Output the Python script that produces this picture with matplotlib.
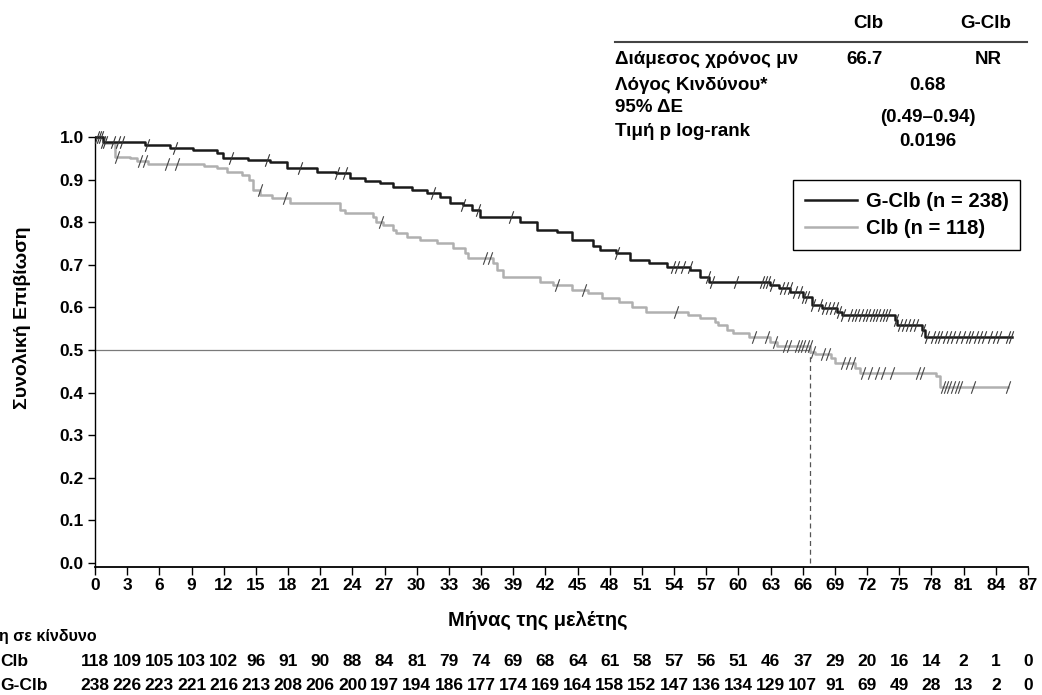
import numpy as np
import matplotlib
matplotlib.use("Agg")
import matplotlib.pyplot as plt
from matplotlib import transforms

plt.rcParams['font.family'] = ['Liberation Sans', 'DejaVu Sans']
plt.rcParams['font.weight'] = 'bold'

# ---------------- data ----------------
# G-Clb Kaplan-Meier steps (month, survival after step)
gclb_t = [0, 0.75, 4.7, 7.0, 9.1, 11.4, 11.9, 14.3, 16.3, 17.9, 20.7, 22.5, 23.8, 25.2, 26.6,
          27.8, 29.6, 31.0, 32.2, 33.1, 34.3, 35.2, 35.9, 39.6, 41.2, 43.1, 44.5, 46.4, 47.1,
          48.6, 49.9, 51.7, 53.3, 55.5, 56.4, 57.3, 62.9, 63.8, 64.8, 66.0, 66.9, 67.8, 69.2,
          69.7, 74.6, 74.8, 77.1, 77.4, 85.5]
gclb_s = [1.0, 0.988, 0.981, 0.975, 0.970, 0.962, 0.950, 0.946, 0.942, 0.927, 0.919, 0.915, 0.905,
          0.896, 0.891, 0.883, 0.876, 0.868, 0.859, 0.845, 0.840, 0.829, 0.812, 0.800, 0.781,
          0.777, 0.758, 0.744, 0.735, 0.728, 0.711, 0.704, 0.695, 0.688, 0.671, 0.660, 0.653,
          0.645, 0.636, 0.624, 0.606, 0.598, 0.589, 0.582, 0.570, 0.559, 0.547, 0.531, 0.531]
gclb_cens = [0.19, 0.37, 0.56, 0.75, 0.93, 1.68, 2.14, 2.52, 4.85, 7.46, 12.67, 16.03, 19.11,
             22.55, 23.30, 31.50, 34.30, 35.69, 38.77, 48.65, 53.87, 54.24, 54.80, 55.45, 57.13,
             57.50, 59.74, 62.16, 62.44, 62.72, 63.09, 64.03, 64.40, 64.77, 65.24, 65.70, 66.08,
             66.36, 66.92, 67.57, 67.94, 68.31, 68.69, 69.06, 69.34, 69.71, 70.36, 70.74, 71.02,
             71.39, 71.76, 72.04, 72.41, 72.69, 72.97, 73.35, 73.63, 73.91, 74.65, 75.02, 75.40,
             75.77, 76.14, 76.51, 77.17, 77.54, 78.10, 78.47, 78.84, 79.22, 79.59, 79.96, 80.43,
             80.90, 81.36, 81.73, 82.11, 82.48, 82.94, 83.41, 83.88, 84.34, 85.09, 85.46]

# Clb Kaplan-Meier steps
clb_t = [0, 0.8, 1.9, 3.3, 3.9, 4.9, 10.2, 11.4, 12.3, 13.7, 14.4, 14.7, 15.4, 16.5, 18.2, 22.8,
         23.3, 25.9, 26.2, 26.9, 27.8, 28.1, 29.1, 30.3, 31.9, 33.4, 34.5, 34.8, 37.1, 37.5,
         38.0, 41.5, 42.7, 44.5, 46.0, 47.3, 48.9, 50.1, 51.4, 55.3, 56.4, 57.8, 58.1, 58.9,
         59.5, 61.0, 62.9, 63.6, 66.7, 67.1, 68.6, 69.0, 70.9, 71.3, 78.4, 78.8, 85.1]
clb_s = [1.0, 0.986, 0.953, 0.950, 0.944, 0.937, 0.932, 0.927, 0.919, 0.911, 0.899, 0.876, 0.864,
         0.857, 0.845, 0.829, 0.822, 0.813, 0.800, 0.793, 0.782, 0.775, 0.766, 0.758, 0.751,
         0.739, 0.728, 0.716, 0.705, 0.688, 0.671, 0.660, 0.653, 0.641, 0.634, 0.622, 0.613,
         0.601, 0.589, 0.582, 0.575, 0.566, 0.559, 0.547, 0.540, 0.530, 0.519, 0.509, 0.495,
         0.490, 0.481, 0.469, 0.458, 0.446, 0.438, 0.413, 0.413]
clb_cens = [2.05, 4.19, 4.66, 6.71, 7.64, 15.38, 17.71, 26.65, 36.35, 36.81, 43.06, 45.57, 54.15,
            61.42, 62.63, 63.37, 64.31, 64.68, 65.42, 65.70, 65.98, 66.36, 66.64, 66.92, 67.85,
            68.31, 69.71, 70.18, 70.64, 71.58, 72.23, 72.88, 73.44, 74.28, 76.70, 77.07, 79.12,
            79.40, 79.68, 79.96, 80.34, 80.62, 81.83, 85.09]

median_clb = 66.7

risk_months = list(range(0, 88, 3))
risk_clb = [118, 109, 105, 103, 102, 96, 91, 90, 88, 84, 81, 79, 74, 69, 68, 64, 61, 58, 57, 56,
            51, 46, 37, 29, 20, 16, 14, 2, 1, 0]
risk_gclb = [238, 226, 223, 221, 216, 213, 208, 206, 200, 197, 194, 186, 177, 174, 169, 164, 158,
             152, 147, 136, 134, 129, 107, 91, 69, 49, 28, 13, 2, 0]

ytick_vals = [0.0, 0.1, 0.2, 0.3, 0.4, 0.5, 0.6, 0.7, 0.8, 0.9, 1.0]

# ---------------- figure ----------------
W, H = 1042, 695
fig = plt.figure(figsize=(W / 100, H / 100), dpi=100)

def fx(px):
    return px / W

def fy(py):
    return 1 - py / H

ax = fig.add_axes([fx(95), fy(567.3), fx(1028) - fx(95), fy(134.9) - fy(567.3)])
ax.set_xlim(0, 87)
ax.set_ylim(-0.01, 1.005)

BLACK = '#1a1a1a'
GRAY = '#b0b0b0'

def surv_at(ts, ss, x):
    idx = np.searchsorted(np.array(ts), np.array(x), side='right') - 1
    return np.array(ss)[idx]

# reference lines
ax.plot([0, median_clb], [0.5, 0.5], color='#7a7a7a', lw=0.9, zorder=1)
ax.plot([median_clb, median_clb], [0, 0.5], color='#555555', lw=0.9, ls=(0, (4, 3)), zorder=1)

l_clb, = ax.step(clb_t, clb_s, where='post', color=GRAY, lw=1.8, zorder=2,
                 label='Clb (n = 118)')
l_gclb, = ax.step(gclb_t, gclb_s, where='post', color=BLACK, lw=1.8, zorder=3,
                  label='G-Clb (n = 238)')

tick_marker = [(-0.35, -1), (0.35, 1)]
ax.plot(clb_cens, surv_at(clb_t, clb_s, clb_cens), ls='none', marker=tick_marker, ms=9,
        mfc='none', mec='#444444', mew=0.8, zorder=4, clip_on=False)
ax.plot(gclb_cens, surv_at(gclb_t, gclb_s, gclb_cens), ls='none', marker=tick_marker, ms=9,
        mfc='none', mec='#333333', mew=0.8, zorder=4, clip_on=False)

# axes styling
for s in ['top', 'right']:
    ax.spines[s].set_visible(False)
ax.spines['left'].set_linewidth(1.0)
ax.spines['bottom'].set_linewidth(1.3)
ax.spines['left'].set_bounds(-0.01, 1.0)

ax.set_xticks(risk_months)
ax.set_xticklabels([str(m) for m in risk_months], fontsize=12.5, fontweight='bold')
ax.set_yticks(ytick_vals)
ax.set_yticklabels([f'{v:.1f}' for v in ytick_vals], fontsize=12.5, fontweight='bold')
ax.tick_params(axis='x', direction='out', length=6, width=1, pad=2)
ax.tick_params(axis='y', direction='out', length=5, width=1, pad=3)

# legend
leg = ax.legend(handles=[l_gclb, l_clb], loc='upper left',
                bbox_to_anchor=(fx(793), fy(180)), bbox_transform=fig.transFigure,
                frameon=True, fancybox=False, edgecolor='black', framealpha=1,
                fontsize=14.5, handlelength=2.6, handletextpad=0.4, labelspacing=0.38,
                borderpad=0.6, borderaxespad=0)
leg.get_frame().set_linewidth(1.0)
for t in leg.get_texts():
    t.set_fontweight('bold')

# axis labels
fig.text(fx(538), fy(620), 'Μήνας της μελέτης', ha='center', va='center', fontsize=14.5,
         fontweight='bold')
fig.text(fx(22), fy(318), 'Συνολική Επιβίωση', ha='center', va='center', rotation=90,
         fontsize=14, fontweight='bold')

# summary table (top right)
fs = 13.5
fig.text(fx(868), fy(23), 'Clb', ha='center', va='center', fontsize=fs, fontweight='bold')
fig.text(fx(986), fy(23), 'G-Clb', ha='center', va='center', fontsize=fs, fontweight='bold')
fig.add_artist(plt.Line2D([fx(615), fx(1027)], [fy(42), fy(42)], color='#444444', lw=1.5))
fig.text(fx(615), fy(59), 'Διάμεσος χρόνος μν', ha='left', va='center', fontsize=fs, fontweight='bold')
fig.text(fx(865), fy(59), '66.7', ha='center', va='center', fontsize=fs, fontweight='bold')
fig.text(fx(988), fy(59), 'NR', ha='center', va='center', fontsize=fs, fontweight='bold')
fig.text(fx(615), fy(86), 'Λόγος Κινδύνου*', ha='left', va='center', fontsize=fs, fontweight='bold')
fig.text(fx(928), fy(86), '0.68', ha='center', va='center', fontsize=fs, fontweight='bold')
fig.text(fx(615), fy(108), '95% ΔΕ', ha='left', va='center', fontsize=fs, fontweight='bold')
fig.text(fx(928), fy(117), '(0.49–0.94)', ha='center', va='center', fontsize=fs, fontweight='bold')
fig.text(fx(615), fy(132), 'Τιμή p log-rank', ha='left', va='center', fontsize=fs, fontweight='bold')
fig.text(fx(928), fy(141), '0.0196', ha='center', va='center', fontsize=fs, fontweight='bold')

# risk table
blend = transforms.blended_transform_factory(ax.transData, fig.transFigure)
fig.text(fx(-1), fy(637), 'η σε κίνδυνο', ha='left', va='center', fontsize=11.5, fontweight='bold')
fig.text(fx(0), fy(662), 'Clb', ha='left', va='center', fontsize=12.5, fontweight='bold')
fig.text(fx(0), fy(685), 'G-Clb', ha='left', va='center', fontsize=12.5, fontweight='bold')
for m, a, b in zip(risk_months, risk_clb, risk_gclb):
    ax.text(m, fy(662), str(a), transform=blend, ha='center', va='center', fontsize=12.5,
            fontweight='bold', clip_on=False)
    ax.text(m, fy(685), str(b), transform=blend, ha='center', va='center', fontsize=12.5,
            fontweight='bold', clip_on=False)

fig.savefig('out.png', dpi=100)
